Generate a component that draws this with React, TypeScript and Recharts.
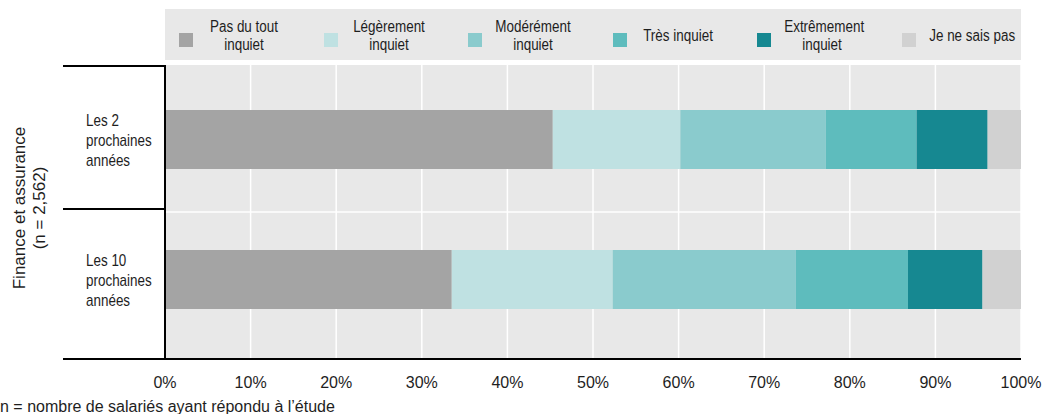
import { BarChart, Bar, XAxis, YAxis, CartesianGrid } from "recharts";

// categories and series
const CATEGORY_LINES = [
  ["Les 2", "prochaines", "années"],
  ["Les 10", "prochaines", "années"],
];
const CATEGORIES = CATEGORY_LINES.map((l) => l.join(" "));

const SERIES_KEYS = ["pasDuTout", "legerement", "moderement", "tres", "extremement", "neSaisPas"];
const SERIES_LINES = [
  ["Pas du tout", "inquiet"],
  ["Légèrement", "inquiet"],
  ["Modérément", "inquiet"],
  ["Très inquiet"],
  ["Extrêmement", "inquiet"],
  ["Je ne sais pas"],
];
const SERIES_COLORS = ["#a4a4a4", "#bfe1e2", "#8acbcd", "#5ebcbd", "#168891", "#d1d1d1"];

// shares in %, one value per category
const PAS_DU_TOUT = [45.3, 33.5];
const LEGEREMENT = [14.9, 18.8];
const MODEREMENT = [17.0, 21.4];
const TRES = [10.6, 13.1];
const EXTREMEMENT = [8.3, 8.7];
const NE_SAIS_PAS = [3.9, 4.5];

const X_TICKS = [0, 10, 20, 30, 40, 50, 60, 70, 80, 90, 100];

const SERIES_VALUES = [PAS_DU_TOUT, LEGEREMENT, MODEREMENT, TRES, EXTREMEMENT, NE_SAIS_PAS];

const data = CATEGORIES.map((name, i) => {
  const row: Record<string, string | number> = { name };
  SERIES_KEYS.forEach((k, s) => {
    row[k] = SERIES_VALUES[s][i];
  });
  return row;
});

const W = 1042;
const H = 414;
const PLOT_LEFT = 165;
const PLOT_RIGHT = 1021;
const PLOT_TOP = 65;
const PLOT_BOTTOM = 359;
const PAD_TOP = 4;
const PAD_BOTTOM = 10;
const BAND_MID = (PLOT_TOP + PAD_TOP + PLOT_BOTTOM - PAD_BOTTOM) / 2;
const BRACKET_LEFT = 63;
const LABEL_X = 86;
const FONT = "'Liberation Sans', Arial, sans-serif";
// legend and category text is set condensed
const SQUEEZE = 0.84;
const INK = "#1e1e1e";

function CategoryTick({ y, payload }: any) {
  const lines = CATEGORY_LINES[CATEGORIES.indexOf(payload.value)] ?? [payload.value];
  return (
    <text
      transform={`translate(${LABEL_X} ${y}) scale(${SQUEEZE} 1)`}
      fontSize={16}
      fill={INK}
      fontFamily={FONT}
    >
      {lines.map((line, i) => (
        <tspan key={i} x={0} y={7 + (i - 1) * 19.7}>
          {line}
        </tspan>
      ))}
    </text>
  );
}

function LegendBox() {
  return (
    <div
      style={{
        position: "absolute",
        left: PLOT_LEFT,
        top: 9,
        width: PLOT_RIGHT - PLOT_LEFT,
        height: 51,
        background: "#e8e8e8",
        boxSizing: "border-box",
        padding: "3px 9px 0 14px",
        display: "flex",
        justifyContent: "space-between",
        alignItems: "center",
        fontFamily: FONT,
        fontSize: 16,
        color: INK,
      }}
    >
      {SERIES_LINES.map((lines, i) => (
        <div key={SERIES_KEYS[i]} style={{ display: "flex", alignItems: "center" }}>
          <div
            style={{
              width: 14,
              height: 14,
              background: SERIES_COLORS[i],
              position: "relative",
              top: 4,
            }}
          />
          <div
            style={{
              width: 90,
              marginLeft: 6,
              textAlign: "center",
              lineHeight: "18px",
              whiteSpace: "nowrap",
              transform: `scaleX(${SQUEEZE})`,
            }}
          >
            {lines.map((l, j) => (
              <div key={j}>{l}</div>
            ))}
          </div>
        </div>
      ))}
    </div>
  );
}

export default function App() {
  return (
    <div style={{ position: "absolute", left: 0, top: 0, width: W, height: H, background: "#fff" }}>
      <BarChart
        width={W}
        height={H}
        data={data}
        layout="vertical"
        barSize={59}
        margin={{ top: PLOT_TOP, right: W - PLOT_RIGHT, bottom: H - PLOT_BOTTOM - 30, left: PLOT_LEFT - 100 }}
      >
        <CartesianGrid
          fill="#e8e8e8"
          fillOpacity={1}
          stroke="#ffffff"
          strokeWidth={1.5}
          horizontalPoints={[BAND_MID + 3]}
        />
        <XAxis
          type="number"
          domain={[0, 100]}
          ticks={X_TICKS}
          interval={0}
          tickFormatter={(v) => `${v}%`}
          axisLine={false}
          tickLine={false}
          tickMargin={12}
          height={30}
          tick={{ fill: INK, fontSize: 16, fontFamily: FONT }}
        />
        <YAxis
          type="category"
          dataKey="name"
          width={100}
          axisLine={false}
          tickLine={false}
          padding={{ top: PAD_TOP, bottom: PAD_BOTTOM }}
          tick={<CategoryTick />}
        />
        {SERIES_KEYS.map((k, i) => (
          <Bar key={k} dataKey={k} name={SERIES_LINES[i].join(" ")} stackId="a" fill={SERIES_COLORS[i]} isAnimationActive={false} />
        ))}
      </BarChart>

      <LegendBox />

      <svg
        width={W}
        height={H}
        style={{ position: "absolute", left: 0, top: 0, pointerEvents: "none" }}
        fontFamily={FONT}
      >
        {/* group brackets and axis lines */}
        <line x1={BRACKET_LEFT} x2={PLOT_LEFT} y1={PLOT_TOP + 1} y2={PLOT_TOP + 1} stroke="#000" strokeWidth={2} />
        <line x1={BRACKET_LEFT} x2={PLOT_LEFT} y1={BAND_MID} y2={BAND_MID} stroke="#000" strokeWidth={2} />
        <line x1={BRACKET_LEFT} x2={PLOT_RIGHT} y1={PLOT_BOTTOM} y2={PLOT_BOTTOM} stroke="#000" strokeWidth={2} />
        <line x1={PLOT_LEFT} x2={PLOT_LEFT} y1={PLOT_TOP} y2={PLOT_BOTTOM + 1} stroke="#000" strokeWidth={2} />

        <g fontSize={17} fill={INK} textAnchor="middle">
          <text x={25} y={208} transform="rotate(-90 25 208)">Finance et assurance</text>
          <text x={45} y={208} transform="rotate(-90 45 208)">(n = 2,562)</text>
        </g>

        <text x={0} y={411.5} fontSize={16} fill={INK}>
          n = nombre de salariés ayant répondu à l’étude
        </text>
      </svg>
    </div>
  );
}
